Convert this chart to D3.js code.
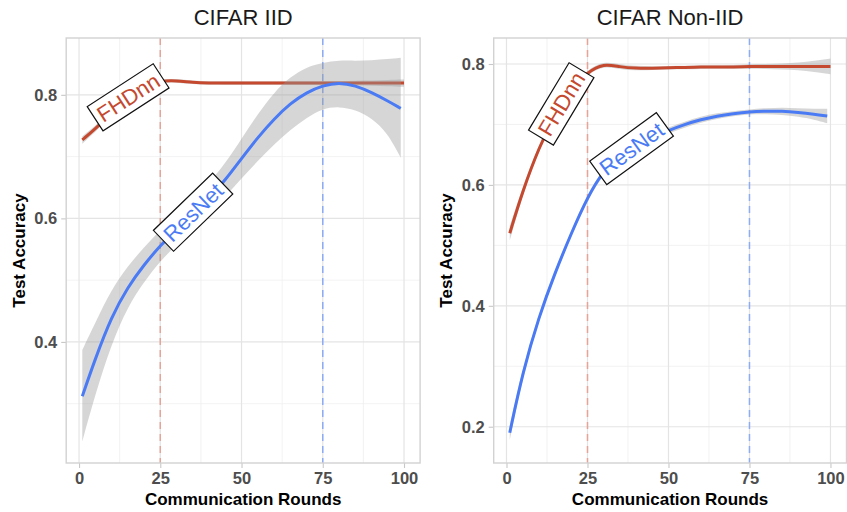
<!DOCTYPE html>
<html><head><meta charset="utf-8">
<script src="https://cdn.jsdelivr.net/npm/d3@7"></script>
<style>
body{margin:0;background:#fff;}
svg{display:block;}
text{font-family:"Liberation Sans", Arial, Helvetica, sans-serif;}
</style>
</head><body>
<svg id="chart" width="847" height="512"></svg>
<script>
// ---------------- data ----------------
const roundsFHD = [1,5,10,15,20,25,30,35,40,45,50,55,60,65,70,75,80,85,90,95,100];
const roundsRes = [1,5,10,15,20,25,30,35,40,45,50,55,60,65,70,75,80,85,90,95,99];

// CIFAR IID
const iidFhdFit = [0.727,0.745,0.770,0.794,0.812,0.823,0.823,0.820,0.819,0.819,0.819,0.819,0.819,0.819,0.819,0.819,0.819,0.819,0.819,0.819,0.819];
const iidFhdLo  = [0.721,0.740,0.766,0.790,0.809,0.820,0.820,0.817,0.816,0.816,0.816,0.816,0.816,0.816,0.816,0.816,0.816,0.815,0.815,0.814,0.813];
const iidFhdHi  = [0.733,0.750,0.774,0.798,0.815,0.826,0.826,0.823,0.822,0.822,0.822,0.822,0.822,0.822,0.822,0.822,0.822,0.823,0.823,0.824,0.825];
const iidResFit = [0.312,0.373,0.441,0.489,0.525,0.556,0.582,0.607,0.632,0.662,0.697,0.731,0.761,0.786,0.804,0.815,0.820,0.815,0.804,0.790,0.778];
const iidResLo  = [0.239,0.315,0.397,0.457,0.497,0.531,0.557,0.582,0.607,0.635,0.665,0.693,0.720,0.743,0.763,0.778,0.781,0.776,0.763,0.738,0.698];
const iidResHi  = [0.387,0.431,0.485,0.523,0.553,0.581,0.607,0.632,0.657,0.689,0.729,0.769,0.804,0.829,0.845,0.852,0.856,0.855,0.856,0.858,0.860];

// CIFAR Non-IID
const nonFhdFit = [0.520,0.590,0.662,0.716,0.757,0.787,0.801,0.795,0.793,0.793,0.794,0.794,0.795,0.795,0.795,0.796,0.796,0.796,0.796,0.796,0.796];
const nonFhdLo  = [0.508,0.583,0.657,0.712,0.753,0.783,0.797,0.791,0.789,0.790,0.791,0.791,0.792,0.792,0.792,0.792,0.792,0.791,0.790,0.787,0.783];
const nonFhdHi  = [0.532,0.597,0.667,0.720,0.761,0.791,0.805,0.799,0.797,0.796,0.797,0.797,0.798,0.798,0.798,0.800,0.800,0.801,0.802,0.805,0.809];
const nonResFit = [0.190,0.290,0.382,0.455,0.520,0.580,0.624,0.648,0.664,0.679,0.690,0.700,0.708,0.714,0.718,0.721,0.722,0.722,0.720,0.717,0.714];
const nonResLo  = [0.178,0.282,0.376,0.450,0.515,0.575,0.619,0.643,0.659,0.674,0.685,0.695,0.703,0.709,0.714,0.717,0.717,0.716,0.713,0.708,0.702];
const nonResHi  = [0.202,0.298,0.388,0.460,0.525,0.585,0.629,0.653,0.669,0.684,0.695,0.705,0.713,0.719,0.722,0.725,0.727,0.728,0.727,0.726,0.726];

const seriesNames = ["FHDnn","ResNet"];
const xTicks = [0,25,50,75,100];
const xMinor = [12.5,37.5,62.5,87.5];
const iidYTicks = [0.4,0.6,0.8];
const iidYMinor = [0.3,0.5,0.7];
const nonYTicks = [0.2,0.4,0.6,0.8];
const nonYMinor = [0.3,0.5,0.7];
const vlineRounds = [25,75];

const iidLabelX = [15.1,35.1], iidLabelY = [0.796,0.610], iidLabelAngle = [-33,-44];
const nonLabelX = [16.9,38.6], nonLabelY = [0.734,0.660], nonLabelAngle = [-59,-36];

const titles = ["CIFAR IID","CIFAR Non-IID"];
const xTitle = "Communication Rounds";
const yTitle = "Test Accuracy";

// ---------------- style ----------------
const RED = "#C4492F", BLUE = "#4A7BF5";
const colors = [RED, BLUE];
const vlineColors = ["#E6A397", "#8DACF6"];

const panels = [
  {title:titles[0], px:[66.2,420.1], xDom:[-3.95,104.95], yDom:[0.204,0.892], yTicks:iidYTicks, yMinor:iidYMinor,
   series:[{x:roundsFHD,fit:iidFhdFit,lo:iidFhdLo,hi:iidFhdHi},{x:roundsRes,fit:iidResFit,lo:iidResLo,hi:iidResHi}],
   labels:{x:iidLabelX,y:iidLabelY,a:iidLabelAngle}, yTitleX:25},
  {title:titles[1], px:[493.7,846.5], xDom:[-3.95,104.95], yDom:[0.140,0.843], yTicks:nonYTicks, yMinor:nonYMinor,
   series:[{x:roundsFHD,fit:nonFhdFit,lo:nonFhdLo,hi:nonFhdHi},{x:roundsRes,fit:nonResFit,lo:nonResLo,hi:nonResHi}],
   labels:{x:nonLabelX,y:nonLabelY,a:nonLabelAngle}, yTitleX:452}
];

const panelTop = 38, panelBottom = 463;
const svg = d3.select("#chart");

panels.forEach((p, pi) => {
  const xs = d3.scaleLinear().domain(p.xDom).range(p.px);
  const ys = d3.scaleLinear().domain(p.yDom).range([panelBottom, panelTop]);
  const g = svg.append("g");
  const clipId = "clip" + pi;
  g.append("clipPath").attr("id", clipId).append("rect")
    .attr("x", p.px[0]).attr("y", panelTop).attr("width", p.px[1]-p.px[0]).attr("height", panelBottom-panelTop);

  // grid
  const grid = g.append("g");
  grid.selectAll(".ymin").data(p.yMinor).join("line")
    .attr("x1", p.px[0]).attr("x2", p.px[1]).attr("y1", d=>ys(d)).attr("y2", d=>ys(d))
    .attr("stroke", "#efefef").attr("stroke-width", 0.8);
  grid.selectAll(".xmin").data(xMinor).join("line")
    .attr("y1", panelTop).attr("y2", panelBottom).attr("x1", d=>xs(d)).attr("x2", d=>xs(d))
    .attr("stroke", "#efefef").attr("stroke-width", 0.8);
  grid.selectAll(".ymaj").data(p.yTicks).join("line")
    .attr("x1", p.px[0]).attr("x2", p.px[1]).attr("y1", d=>ys(d)).attr("y2", d=>ys(d))
    .attr("stroke", "#e4e4e4").attr("stroke-width", 1.2);
  grid.selectAll(".xmaj").data(xTicks).join("line")
    .attr("y1", panelTop).attr("y2", panelBottom).attr("x1", d=>xs(d)).attr("x2", d=>xs(d))
    .attr("stroke", "#e4e4e4").attr("stroke-width", 1.2);

  // axes
  const yAxis = d3.axisLeft(ys).tickValues(p.yTicks).tickSize(5).tickPadding(4).tickFormat(d3.format(".1f"));
  const ya = g.append("g").attr("transform", `translate(${p.px[0]},0)`).call(yAxis);
  const xAxis = d3.axisBottom(xs).tickValues(xTicks).tickSize(5).tickPadding(4).tickFormat(d3.format("d"));
  const xa = g.append("g").attr("transform", `translate(0,${panelBottom})`).call(xAxis);
  [ya, xa].forEach(a => {
    a.select(".domain").remove();
    a.selectAll(".tick line").attr("stroke", "#c8c8c8").attr("stroke-width", 1.1);
    a.selectAll(".tick text").attr("fill", "#4d4d4d").style("font-size", "16.5px").style("font-weight", "bold")
      .style("font-family", '"Liberation Sans", Arial, sans-serif');
  });

  const plot = g.append("g").attr("clip-path", `url(#${clipId})`);
  // vertical reference lines
  plot.selectAll(".vl").data(vlineRounds).join("line")
    .attr("x1", d=>xs(d)).attr("x2", d=>xs(d)).attr("y1", panelTop).attr("y2", panelBottom)
    .attr("stroke", (d,i)=>vlineColors[i]).attr("stroke-width", 1.5).attr("stroke-dasharray", "7,5");

  // smooths
  p.series.forEach((s, si) => {
    const pts = s.x.map((xv, i) => ({x:xv, fit:s.fit[i], lo:s.lo[i], hi:s.hi[i]}));
    const area = d3.area().x(d=>xs(d.x)).y0(d=>ys(d.lo)).y1(d=>ys(d.hi)).curve(d3.curveBasis);
    plot.append("path").attr("d", area(pts)).attr("fill", "#999999").attr("fill-opacity", 0.4);
    const line = d3.line().x(d=>xs(d.x)).y(d=>ys(d.fit)).curve(d3.curveBasis);
    plot.append("path").attr("d", line(pts)).attr("fill", "none").attr("stroke", colors[si]).attr("stroke-width", 3);
  });

  // boxed labels
  seriesNames.forEach((name, i) => {
    const lg = g.append("g").attr("transform", `translate(${xs(p.labels.x[i])},${ys(p.labels.y[i])}) rotate(${p.labels.a[i]})`);
    const rect = lg.append("rect");
    const t = lg.append("text").text(name).attr("text-anchor", "middle").attr("dy", "0.36em")
      .attr("fill", colors[i]).style("font-size", "22px");
    const bb = t.node().getBBox();
    const w = bb.width + 9, h = 29;
    rect.attr("x", -w/2).attr("y", -h/2).attr("width", w).attr("height", h)
      .attr("fill", "#fff").attr("stroke", "#111").attr("stroke-width", 1.2);
  });

  // panel border
  g.append("rect").attr("x", p.px[0]).attr("y", panelTop).attr("width", p.px[1]-p.px[0]).attr("height", panelBottom-panelTop)
    .attr("fill", "none").attr("stroke", "#d2d2d2").attr("stroke-width", 1.4);

  // titles
  const cx = (p.px[0]+p.px[1])/2;
  g.append("text").attr("x", cx).attr("y", 25).attr("text-anchor", "middle")
    .attr("fill", "#1a1a1a").style("font-size", "22px").text(p.title);
  g.append("text").attr("x", cx).attr("y", 505).attr("text-anchor", "middle")
    .attr("fill", "#000").style("font-size", "17px").style("font-weight", "bold").text(xTitle);
  g.append("text").attr("transform", `translate(${p.yTitleX},${(panelTop+panelBottom)/2}) rotate(-90)`)
    .attr("text-anchor", "middle").attr("fill", "#000").style("font-size", "17px").style("font-weight", "bold").text(yTitle);
});
</script>
</body></html>
